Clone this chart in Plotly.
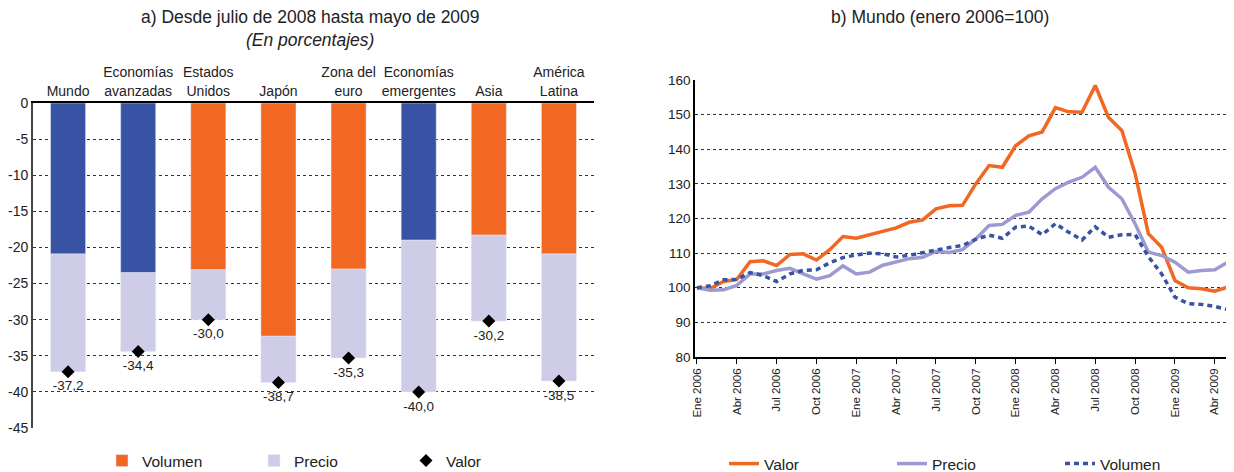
import plotly.graph_objects as go

# --- Panel a) datos (porcentajes) ---
regiones = ["Mundo", "Economías<br>avanzadas", "Estados<br>Unidos", "Japón",
            "Zona del<br>euro", "Economías<br>emergentes", "Asia", "América<br>Latina"]
agregado = [True, True, False, False, False, True, False, False]
volumen_pct = [-20.9, -23.5, -23.1, -32.3, -23.0, -19.0, -18.3, -20.9]
precio_pct = [-16.3, -10.9, -6.9, -6.4, -12.3, -21.0, -11.9, -17.6]
valor_pct = [-37.2, -34.4, -30.0, -38.7, -35.3, -40.0, -30.2, -38.5]

# --- Panel b) datos (enero 2006 = 100), mensual ene 2006 - may 2009 ---
meses = ["Ene", "Feb", "Mar", "Abr", "May", "Jun", "Jul", "Ago", "Sep", "Oct", "Nov", "Dic"]
fechas = [f"{m} {a}" for a in (2006, 2007, 2008, 2009) for m in meses][:41]
valor_idx = [100.0, 99.8, 101.8, 102.4, 107.5, 107.8, 106.4, 109.6, 109.8, 108.0,
             111.0, 114.8, 114.3, 115.3, 116.3, 117.3, 118.9, 119.6, 122.8, 123.7,
             123.8, 130.0, 135.3, 134.8, 141.0, 143.9, 145.0, 152.0, 150.8, 150.7,
             158.4, 149.2, 145.4, 133.0, 115.6, 111.7, 102.1, 100.0, 99.7, 99.0, 100.2]
precio_idx = [100.0, 99.3, 99.4, 100.7, 104.0, 104.0, 105.0, 105.6, 104.0, 102.5,
              103.5, 106.3, 104.0, 104.5, 106.5, 107.4, 108.4, 108.8, 110.5, 110.2,
              111.0, 114.1, 118.0, 118.3, 120.9, 121.8, 125.7, 128.6, 130.5, 131.9,
              134.8, 129.0, 125.7, 118.5, 110.3, 109.3, 107.4, 104.5, 105.0, 105.2, 107.4]
volumen_idx = [100.0, 100.6, 102.3, 102.4, 104.4, 103.5, 101.8, 104.0, 105.0, 105.2,
               107.2, 108.7, 109.5, 110.0, 109.8, 108.9, 109.4, 110.2, 110.8, 111.6,
               112.2, 114.0, 115.2, 114.3, 117.5, 117.8, 115.3, 118.5, 116.0, 113.8,
               117.6, 114.6, 115.3, 115.4, 109.0, 104.0, 97.3, 95.4, 95.2, 94.6, 93.7]
tick_fechas = ["Ene 2006", "Abr 2006", "Jul 2006", "Oct 2006", "Ene 2007", "Abr 2007",
               "Jul 2007", "Oct 2007", "Ene 2008", "Abr 2008", "Jul 2008", "Oct 2008",
               "Ene 2009", "Abr 2009"]

NARANJA = "#F26722"
AZUL = "#3953A4"
LILA_BAR = "#CFCCE7"
LILA_LINEA = "#9C9AD0"
FONT = "Liberation Sans, Arial, sans-serif"

# the page body has an 8px margin, so the figure is drawn 8px smaller and shifted
OFF = 8
W, H = 1234 - OFF, 472 - OFF


def px(x):
    return (x - OFF) / W


def py(y):
    return 1 - (y - OFF) / H


fig = go.Figure()

# barras apiladas (panel a)
fig.add_trace(go.Bar(
    x=regiones, y=[v if not g else None for v, g in zip(volumen_pct, agregado)],
    name="Volumen", marker_color=NARANJA, xaxis="x", yaxis="y", legend="legend"))
fig.add_trace(go.Bar(
    x=regiones, y=[v if g else None for v, g in zip(volumen_pct, agregado)],
    name="Volumen", marker_color=AZUL, showlegend=False, xaxis="x", yaxis="y"))
fig.add_trace(go.Bar(
    x=regiones, y=precio_pct, name="Precio", marker_color=LILA_BAR,
    xaxis="x", yaxis="y", legend="legend"))
fig.add_trace(go.Scatter(
    x=regiones, y=valor_pct, name="Valor", mode="markers",
    marker=dict(symbol="diamond", size=10, color="black"),
    xaxis="x", yaxis="y", legend="legend"))
# etiquetas de valor (marcador invisible para separar el texto)
fig.add_trace(go.Scatter(
    x=regiones, y=valor_pct, mode="markers+text", showlegend=False,
    marker=dict(size=12, color="rgba(0,0,0,0)"),
    text=[f"{v:.1f}".replace(".", ",") for v in valor_pct],
    textposition="bottom center", textfont=dict(size=13.5, color="#222"),
    hoverinfo="skip", xaxis="x", yaxis="y"))

# lineas (panel b)
fig.add_trace(go.Scatter(x=fechas, y=valor_idx, name="Valor", mode="lines",
                         line=dict(color=NARANJA, width=3.5),
                         xaxis="x2", yaxis="y2", legend="legend2"))
fig.add_trace(go.Scatter(x=fechas, y=precio_idx, name="Precio", mode="lines",
                         line=dict(color=LILA_LINEA, width=3.5),
                         xaxis="x2", yaxis="y2", legend="legend2"))
fig.add_trace(go.Scatter(x=fechas, y=volumen_idx, name="Volumen", mode="lines",
                         line=dict(color=AZUL, width=3.5, dash="5px,4px"),
                         xaxis="x2", yaxis="y2", legend="legend2"))

grid = dict(showgrid=True, gridcolor="#333", griddash="3px,3px", gridwidth=1)

fig.update_layout(
    width=W, height=H,
    margin=dict(l=0, r=0, t=0, b=0, autoexpand=False),
    paper_bgcolor="white", plot_bgcolor="white",
    font=dict(family=FONT, size=14, color="#222"),
    barmode="relative", bargap=0.5,
    xaxis=dict(domain=[px(33), px(594)], anchor="y", side="top",
               showline=True, linecolor="black", linewidth=1.5,
               ticks="", showgrid=False, tickfont=dict(size=14),
               range=[-0.5, 7.5]),
    yaxis=dict(domain=[py(428), py(103)], anchor="x",
               range=[-45, 0], tickvals=list(range(0, -50, -5)),
               ticktext=[str(v) for v in range(0, -50, -5)],
               showline=True, linecolor="#444", linewidth=2, ticks="",
               zeroline=False, tickfont=dict(size=14), **grid),
    xaxis2=dict(domain=[px(695), px(1232)], anchor="y2", type="category",
                categoryorder="array", categoryarray=fechas,
                range=[-0.15, 40.3], tickvals=tick_fechas, ticktext=tick_fechas,
                tickangle=-90, ticks="outside", ticklen=5, tickcolor="black",
                showline=True, linecolor="black", linewidth=1.5,
                showgrid=False, tickfont=dict(size=11.5)),
    yaxis2=dict(domain=[py(357), py(80)], anchor="x2",
                range=[80, 160], dtick=10, showline=True, linecolor="black",
                linewidth=1.5, ticks="", zeroline=False,
                tickfont=dict(size=13.5), **grid),
    legend=dict(orientation="h", x=px(102), y=py(461), xanchor="left",
                yanchor="middle", entrywidth=107, font=dict(size=15.5),
                bgcolor="rgba(0,0,0,0)", traceorder="normal"),
    legend2=dict(orientation="h", x=px(724), y=py(464), xanchor="left",
                 yanchor="middle", entrywidth=123, font=dict(size=15.5),
                 bgcolor="rgba(0,0,0,0)", traceorder="normal"),
    annotations=[
        dict(text="a) Desde julio de 2008 hasta mayo de 2009", x=px(310), y=py(17),
             xref="paper", yref="paper", xanchor="center", yanchor="middle",
             showarrow=False, font=dict(size=17.5)),
        dict(text="<i>(En porcentajes)</i>", x=px(310), y=py(40),
             xref="paper", yref="paper", xanchor="center", yanchor="middle",
             showarrow=False, font=dict(size=17.5)),
        dict(text="b) Mundo (enero 2006=100)", x=px(940), y=py(17),
             xref="paper", yref="paper", xanchor="center", yanchor="middle",
             showarrow=False, font=dict(size=17.5)),
    ],
)

fig.write_html("out.html")
